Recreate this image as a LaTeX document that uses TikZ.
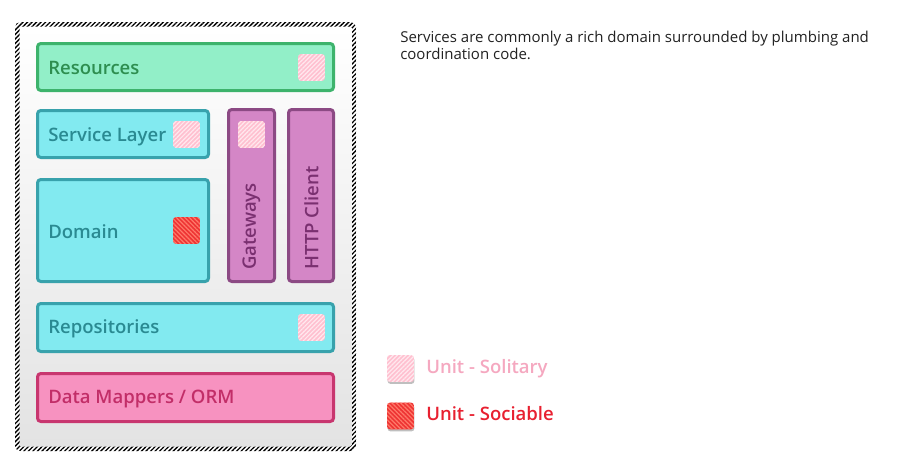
\documentclass[tikz,border=0pt]{standalone}
\usepackage{fontspec}
\setmainfont{Open Sans}
\newfontfamily\semib{Open Sans}[UprightFont={* Semibold}]
\usetikzlibrary{patterns.meta,fit}
\definecolor{resfill}{HTML}{92EFC8}
\definecolor{resdraw}{HTML}{3DB36C}
\definecolor{restext}{HTML}{2E8E50}
\definecolor{svcfill}{HTML}{82EAF0}
\definecolor{svcdraw}{HTML}{38A2AC}
\definecolor{svctext}{HTML}{2A8A92}
\definecolor{purfill}{HTML}{D486C6}
\definecolor{purdraw}{HTML}{8C4A84}
\definecolor{purtext}{HTML}{7A3070}
\definecolor{dmfill}{HTML}{F792C0}
\definecolor{dmdraw}{HTML}{C8366F}
\definecolor{dmtext}{HTML}{C22E68}
\definecolor{solbase}{HTML}{FFC0D0}
\definecolor{solstripe}{HTML}{FFE8EE}
\definecolor{socbase}{HTML}{EE3434}
\definecolor{socstripe}{HTML}{FF7A6A}
\definecolor{soltext}{HTML}{F5A8C0}
\definecolor{soctext}{HTML}{E82030}
\definecolor{bodytext}{HTML}{222222}
\tikzset{
  layer/.style={line width=2.25pt, rounded corners=2.5pt, inner sep=0pt},
  reslayer/.style={layer, draw=resdraw, fill=resfill},
  svclayer/.style={layer, draw=svcdraw, fill=svcfill},
  purlayer/.style={layer, draw=purdraw, fill=purfill},
  dmlayer/.style={layer, draw=dmdraw, fill=dmfill},
  lbl/.style={anchor=base west, inner sep=0pt, font=\semib\fontsize{13.9pt}{16pt}\selectfont},
  vlbl/.style={inner sep=0pt, anchor=west, font=\semib\fontsize{13.9pt}{16pt}\selectfont, rotate=90, text=purtext},
  desc/.style={anchor=base west, inner sep=0pt, text=bodytext, font=\fontsize{11.25pt}{13pt}\selectfont},
  solsq/.style={minimum size=20pt, inner sep=0pt, rounded corners=2pt, fill=solbase,
    postaction={pattern={Lines[angle=45,distance=2.3pt,line width=0.9pt]}, pattern color=solstripe}},
  socsq/.style={minimum size=20pt, inner sep=0pt, rounded corners=2pt, fill=socbase,
    postaction={pattern={Lines[angle=-45,distance=2.3pt,line width=0.9pt]}, pattern color=socstripe}},
  shadowsq/.style={minimum size=20pt, inner sep=0pt, rounded corners=2pt, fill=black, opacity=0.25},
}
\begin{document}
\begin{tikzpicture}[x=0.75pt,y=-0.75pt]
\useasboundingbox (0,0) rectangle (899,475);
\fill[white] (0,0) rectangle (899,475);
% outer frame
\fill[white, rounded corners=4pt] (15,22) rectangle (356,451);
\fill[pattern={Lines[angle=45,distance=2.4pt,line width=1pt]}, pattern color=black, rounded corners=4pt] (15,22) rectangle (356,451);
\shade[top color=white, bottom color=black!11, rounded corners=1pt] (19.5,26.5) rectangle (351.5,446.5);
% layers
\node[reslayer, fit={(37.5,43.5)(333.5,90.5)}] (res) {};
\node[svclayer, fit={(37.5,110.5)(208.5,157.5)}] (svc) {};
\node[svclayer, fit={(37.5,179.5)(208.5,281.5)}] (dom) {};
\node[purlayer, fit={(228.5,109.5)(274.5,281.5)}] (gw) {};
\node[purlayer, fit={(288.5,109.5)(333.5,281.5)}] (http) {};
\node[svclayer, fit={(37.5,303.5)(333.5,351.5)}] (repo) {};
\node[dmlayer, fit={(37.5,373.5)(333.5,421.5)}] (dm) {};
% labels
\node[lbl, text=restext] (resl) at (48,74) {Resources};
\node[lbl, text=svctext] (svcl) at (48,141) {Service Layer};
\node[lbl, text=svctext] (doml) at (48,238) {Domain};
\node[lbl, text=svctext] (repol) at (48,333) {Repositories};
\node[lbl, text=dmtext] (dml) at (48,403) {Data Mappers / ORM};
\node[vlbl] (gwl) at (251.5,270) {Gateways};
\node[vlbl] (httpl) at (311.5,270) {HTTP Client};
% markers
\node[solsq] (sq1) at (311.5,67.5) {};
\node[solsq] (sq2) at (186.5,134.5) {};
\node[solsq] (sq3) at (251.5,134.5) {};
\node[socsq] (sq4) at (186.5,230.5) {};
\node[solsq] (sq5) at (311.5,327.5) {};
% legend
\node[shadowsq] (sh1) at (401,370.5) {};
\node[solsq] (lsol) at (400.5,368.5) {};
\node[shadowsq] (sh2) at (401,418) {};
\node[socsq] (lsoc) at (400.5,416) {};
\node[lbl, text=soltext] (lsoltx) at (426,373) {Unit - Solitary};
\node[lbl, text=soctext] (lsoctx) at (426,420) {Unit - Sociable};
% description
\node[desc] (desc1) at (400,42) {Services are commonly a rich domain surrounded by plumbing and};
\node[desc] (desc2) at (400,59) {coordination code.};
\end{tikzpicture}
\end{document}
